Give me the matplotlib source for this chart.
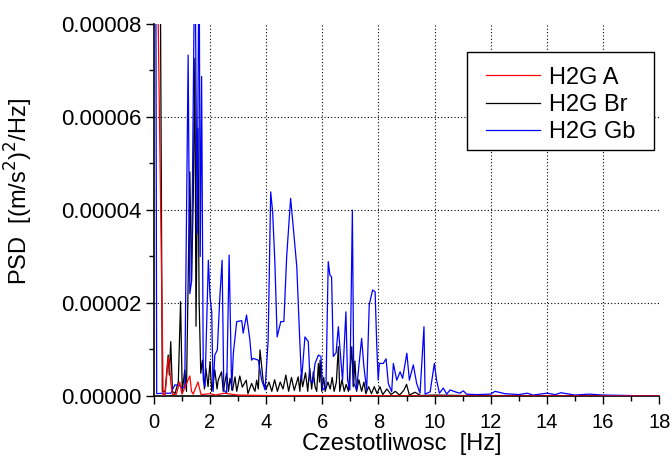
import numpy as np
import matplotlib
matplotlib.use("Agg")
import matplotlib.pyplot as plt
from matplotlib.patches import Rectangle
from matplotlib.ticker import MultipleLocator, FormatStrFormatter

plt.rcParams["font.family"] = ["Liberation Sans", "DejaVu Sans"]

# PSD values are given in units of 1e-5 (m/s^2)^2/Hz
freq_a = [0.0, 0.15, 0.33, 0.40, 0.51, 0.55, 0.60, 0.66, 0.80, 0.92, 1.00, 1.28, 1.34,
          1.40, 1.57, 1.68, 2.00, 2.20, 2.50, 3.00, 4.00, 6.00, 10.0, 18.0]
psd_a = [30.0, 8.2, 0.02, 0.03, 0.84, 0.70, 0.30, 0.03, 0.04, 0.30, 0.04, 0.43, 0.10,
         0.04, 0.30, 0.03, 0.05, 0.02, 0.06, 0.02, 0.01, 0.01, 0.0, 0.0]

freq_br = [0.0, 0.23, 0.30, 0.40, 0.51, 0.55, 0.60, 0.66, 0.75, 0.87, 0.95, 1.01, 1.10,
           1.16, 1.28, 1.34, 1.40, 1.46, 1.50, 1.57, 1.61, 1.67, 1.73, 1.80, 1.85, 1.93,
           2.00, 2.06, 2.17, 2.25, 2.29, 2.41, 2.47, 2.59, 2.66, 2.71, 2.80, 2.89, 2.95,
           3.06, 3.15, 3.29, 3.35, 3.48, 3.60, 3.66, 3.72, 3.78, 3.90, 4.00, 4.10, 4.20,
           4.30, 4.40, 4.50, 4.60, 4.70, 4.80, 4.90, 5.00, 5.14, 5.20, 5.24, 5.30, 5.40,
           5.48, 5.55, 5.62, 5.68, 5.74, 5.80, 5.86, 5.90, 5.92, 5.98, 6.05, 6.10, 6.20,
           6.28, 6.35, 6.42, 6.50, 6.57, 6.62, 6.70, 6.78, 6.85, 6.93, 7.05, 7.10, 7.16,
           7.22, 7.30, 7.40, 7.48, 7.55, 7.65, 7.75, 7.85, 7.95, 8.05, 8.15, 8.30, 8.45,
           8.60, 8.75, 8.90, 9.00, 9.10, 9.30, 9.50, 10.0, 11.0, 18.0]
psd_br = [30.0, 9.0, 0.10, 0.10, 0.88, 0.45, 1.17, 0.10, 0.05, 0.30, 2.03, 0.10, 0.56,
          0.10, 4.82, 2.46, 4.18, 7.26, 1.50, 5.76, 2.06, 0.49, 0.77, 0.15, 0.60, 0.20,
          0.74, 0.10, 0.56, 0.15, 0.34, 0.52, 0.10, 0.49, 0.10, 0.38, 0.12, 0.41, 0.10,
          0.43, 0.19, 0.34, 0.05, 0.27, 0.10, 0.34, 0.15, 0.99, 0.28, 0.15, 0.30, 0.10,
          0.35, 0.10, 0.30, 0.15, 0.45, 0.10, 0.40, 0.12, 0.41, 0.10, 0.45, 0.20, 0.50,
          0.10, 0.60, 0.15, 0.52, 0.20, 0.10, 0.70, 0.30, 0.77, 0.10, 0.40, 0.10, 0.30,
          0.15, 0.40, 0.10, 0.30, 1.06, 0.10, 0.35, 0.10, 0.25, 0.10, 1.06, 0.20, 0.75,
          0.10, 0.35, 0.10, 0.30, 0.05, 0.20, 0.05, 0.20, 0.05, 0.20, 0.03, 0.15, 0.03,
          0.10, 0.02, 0.12, 0.25, 0.02, 0.08, 0.01, 0.02, 0.01, 0.005]

freq_gb = [0.0, 0.10, 0.30, 0.60, 0.75, 0.93, 1.02, 1.10, 1.22, 1.28, 1.34, 1.46, 1.54,
           1.61, 1.65, 1.70, 1.76, 1.82, 1.94, 2.00, 2.06, 2.11, 2.17, 2.26, 2.35, 2.43,
           2.49, 2.59, 2.68, 2.77, 2.83, 2.95, 3.13, 3.18, 3.30, 3.42, 3.48, 3.54, 3.72,
           3.84, 3.96, 4.07, 4.16, 4.23, 4.31, 4.39, 4.52, 4.63, 4.73, 4.87, 4.93, 5.09,
           5.20, 5.26, 5.38, 5.50, 5.56, 5.66, 5.74, 5.86, 5.95, 6.01, 6.13, 6.21, 6.27,
           6.33, 6.39, 6.49, 6.57, 6.65, 6.72, 6.84, 6.90, 6.98, 7.07, 7.12, 7.22, 7.31,
           7.40, 7.48, 7.58, 7.67, 7.79, 7.88, 7.94, 7.99, 8.03, 8.17, 8.27, 8.35, 8.47,
           8.53, 8.65, 8.77, 8.86, 9.01, 9.10, 9.24, 9.36, 9.48, 9.62, 9.66, 9.84, 9.99,
           10.07, 10.17, 10.31, 10.43, 10.55, 10.73, 10.90, 11.02, 11.14, 11.50, 12.00,
           12.15, 12.50, 13.00, 13.30, 13.50, 14.00, 14.30, 14.50, 15.00, 15.50, 16.00,
           17.00, 17.20, 18.0]
psd_gb = [30.0, 0.05, 0.06, 0.06, 0.24, 0.22, 0.17, 0.20, 7.33, 2.20, 2.46, 10.0, 3.50,
          10.0, 3.00, 6.87, 0.34, 0.20, 2.92, 2.13, 1.80, 0.10, 0.88, 0.99, 2.13, 2.92,
          0.13, 0.06, 3.03, 0.13, 0.92, 1.60, 1.62, 1.35, 1.74, 1.20, 0.77, 0.81, 0.77,
          0.34, 0.13, 1.20, 4.39, 3.96, 2.86, 1.27, 1.60, 1.60, 3.00, 4.25, 3.86, 2.78,
          1.14, 0.34, 1.27, 1.17, 0.34, 0.28, 0.70, 0.88, 0.85, 0.13, 0.20, 2.89, 2.60,
          2.56, 0.85, 0.93, 1.49, 0.85, 0.34, 1.81, 0.34, 0.13, 4.00, 0.28, 0.13, 0.70,
          1.24, 0.63, 0.13, 1.96, 2.28, 2.24, 1.06, 0.34, 0.70, 0.70, 0.80, 0.27, 0.09,
          0.70, 0.34, 0.52, 0.38, 0.92, 0.34, 0.67, 0.27, 0.06, 1.49, 0.04, 0.09, 0.70,
          0.34, 0.06, 0.17, 0.04, 0.13, 0.09, 0.06, 0.11, 0.04, 0.03, 0.04,
          0.10, 0.05, 0.03, 0.06, 0.02, 0.06, 0.03, 0.07, 0.02, 0.04, 0.02,
          0.01, 0.0, 0.0]

labels = ["H2G A", "H2G Br", "H2G Gb"]
colors = ["#ff0000", "#000000", "#0000ff"]
x_grid = [2, 4, 6, 8, 10, 12, 14, 16]
y_grid = [2e-5, 4e-5, 6e-5]

fig = plt.figure(figsize=(6.72, 4.57), dpi=100)
ax = fig.add_axes([0.229, 0.1335, 0.752, 0.814])

scale = 1e-5
ax.plot(freq_br, np.array(psd_br) * scale, color=colors[1], lw=0.9, zorder=2.6, label=labels[1])
ax.plot(freq_gb, np.array(psd_gb) * scale, color=colors[2], lw=0.9, zorder=2.7, label=labels[2])
ax.plot(freq_a, np.array(psd_a) * scale, color=colors[0], lw=0.9, zorder=2.8, label=labels[0])

# dotted grid only inside the frame
for gx in x_grid:
    ax.axvline(gx, color="k", ls=(0, (1, 2)), lw=0.8, zorder=1)
for gy in y_grid:
    ax.axhline(gy, color="k", ls=(0, (1, 2)), lw=0.8, zorder=1)

ax.set_xlim(0, 18)
ax.set_ylim(0, 8e-5)
ax.xaxis.set_major_locator(MultipleLocator(2))
ax.xaxis.set_minor_locator(MultipleLocator(1))
ax.yaxis.set_major_locator(MultipleLocator(2e-5))
ax.yaxis.set_minor_locator(MultipleLocator(1e-5))
ax.yaxis.set_major_formatter(FormatStrFormatter("%.5f"))
ax.tick_params(which="major", direction="out", length=6, width=1)
ax.tick_params(which="minor", direction="out", length=3.5, width=1)
ax.tick_params(axis="x", which="major", labelsize=14.5, pad=6)
ax.tick_params(axis="y", which="major", labelsize=16, pad=3)

for side in ("top", "right"):
    ax.spines[side].set_visible(False)
for side in ("left", "bottom"):
    ax.spines[side].set_linewidth(1.2)

ax.set_xlabel("Czestotliwosc  [Hz]", fontsize=17)
ax.set_ylabel("PSD  [(m/s$^2$)$^2$/Hz]", fontsize=17)
ax.yaxis.set_label_coords(-0.236, 0.55)
ax.xaxis.set_label_coords(0.491, -0.10)

# legend box drawn separately so its padding can be wider than tall
ax.add_patch(Rectangle((0.620, 0.662), 0.370, 0.263, transform=ax.transAxes,
                       facecolor="white", edgecolor="k", lw=1.0, zorder=4.5))
handles, labs = ax.get_legend_handles_labels()
order = [labs.index(l) for l in labels]
leg = ax.legend([handles[i] for i in order], labels, loc="upper left",
                bbox_to_anchor=(0.634, 0.917), fontsize=17, frameon=False,
                handlelength=2.3, handletextpad=0.35, labelspacing=0.22,
                borderpad=0.5, borderaxespad=0)
leg.set_zorder(5)

fig.savefig("out.png", dpi=100)
